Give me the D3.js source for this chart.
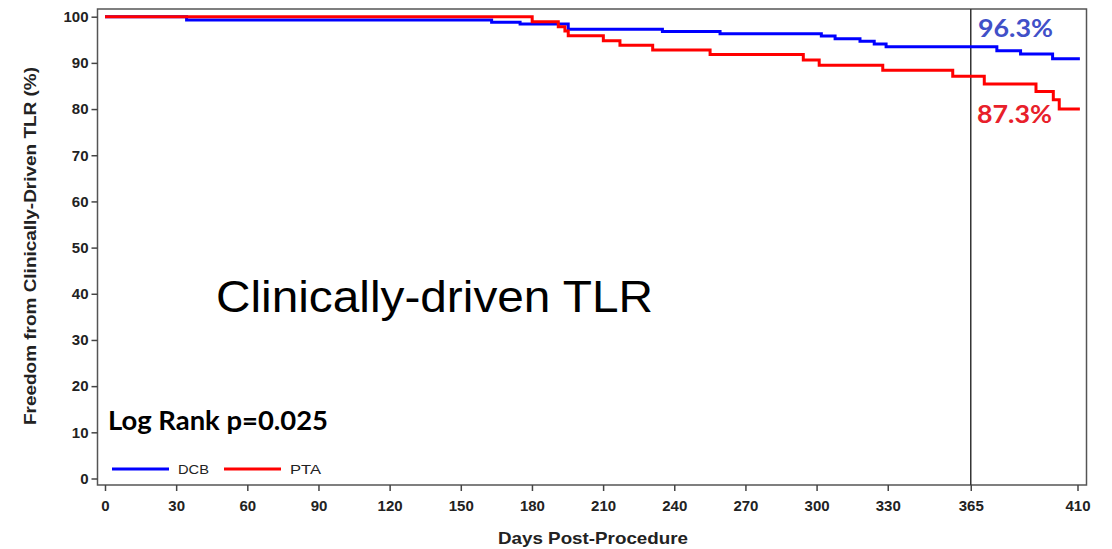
<!DOCTYPE html>
<html>
<head>
<meta charset="utf-8">
<script src="https://cdn.jsdelivr.net/npm/d3@7"></script>
<style>
  html, body { margin: 0; padding: 0; background: #fff; }
  svg { display: block; }
</style>
</head>
<body>
<svg id="chart" width="1112" height="549"></svg>
<script>
// ---- Data ----
const dcbDays = [0, 34.4, 163, 175, 195.3, 235, 259.3, 302, 307.8, 318.3, 324.3, 329.3, 376, 386, 399.5, 411];
const dcbSurv = [100, 99.3, 98.8, 98.4, 97.3, 96.8, 96.3, 95.8, 95.2, 94.7, 94.1, 93.5, 92.6, 91.9, 90.9, 90.9];
const ptaDays = [0, 180.1, 191.1, 193.9, 195.3, 210.1, 217.1, 230.9, 255.1, 294.4, 301.1, 327.9, 357.4, 370.7, 392.5, 399.8, 402.3, 411];
const ptaSurv = [100, 98.9, 97.8, 96.9, 95.9, 94.8, 93.8, 92.8, 91.8, 90.6, 89.5, 88.4, 87.1, 85.4, 83.8, 82.0, 80.0, 80.0];
const xTicks = [0, 30, 60, 90, 120, 150, 180, 210, 240, 270, 300, 330, 365, 410];
const yTicks = [0, 10, 20, 30, 40, 50, 60, 70, 80, 90, 100];
const seriesNames = ["DCB", "PTA"];
const landmarkDay = 365;
const landmarkLabels = ["96.3%", "87.3%"];

// ---- Layout ----
const svg = d3.select("#chart");
const box = { left: 97.5, right: 1086.5, top: 9, bottom: 485 };
const x = d3.scaleLinear().domain([0, 410]).range([105, 1077.5]);
const y = d3.scaleLinear().domain([0, 100]).range([478.5, 16.7]);
const axisFont = "'Liberation Sans', Arial, sans-serif";

// frame
svg.append("rect")
  .attr("x", box.left).attr("y", box.top)
  .attr("width", box.right - box.left).attr("height", box.bottom - box.top)
  .attr("fill", "none").attr("stroke", "#555").attr("stroke-width", 1.5);

// y axis
const yAxis = svg.append("g")
  .attr("transform", `translate(${box.left},0)`)
  .call(d3.axisLeft(y).tickValues(yTicks).tickSize(6).tickPadding(3).tickFormat(d3.format("d")));
yAxis.select(".domain").remove();
yAxis.selectAll(".tick line").attr("stroke", "#444").attr("stroke-width", 1.5);
yAxis.selectAll(".tick text")
  .attr("font-family", axisFont).attr("font-size", 15).attr("font-weight", "bold").attr("fill", "#222");

// x axis
const xAxis = svg.append("g")
  .attr("transform", `translate(0,${box.bottom})`)
  .call(d3.axisBottom(x).tickValues(xTicks).tickSize(6).tickPadding(9).tickFormat(d3.format("d")));
xAxis.select(".domain").remove();
xAxis.selectAll(".tick line").attr("stroke", "#444").attr("stroke-width", 1.5);
xAxis.selectAll(".tick text")
  .attr("font-family", axisFont).attr("font-size", 15).attr("font-weight", "bold").attr("fill", "#222");

// axis titles
svg.append("text")
  .attr("x", 498).attr("y", 544)
  .attr("textLength", 190).attr("lengthAdjust", "spacingAndGlyphs")
  .attr("font-family", axisFont).attr("font-size", 16.5).attr("font-weight", "bold").attr("fill", "#222")
  .text("Days Post-Procedure");
svg.append("text")
  .attr("transform", "translate(36,425) rotate(-90)")
  .attr("textLength", 358).attr("lengthAdjust", "spacingAndGlyphs")
  .attr("font-family", axisFont).attr("font-size", 16).attr("font-weight", "bold").attr("fill", "#222")
  .text("Freedom from Clinically-Driven TLR (%)");

// landmark line
svg.append("line")
  .attr("x1", x(landmarkDay)).attr("x2", x(landmarkDay))
  .attr("y1", box.top).attr("y2", box.bottom)
  .attr("stroke", "#333").attr("stroke-width", 1.5);

// curves
const line = d3.line().curve(d3.curveStepAfter).x(d => x(d[0])).y(d => y(d[1]));
const dcb = dcbDays.map((d, i) => [d, dcbSurv[i]]);
const pta = ptaDays.map((d, i) => [d, ptaSurv[i]]);
svg.append("path").attr("d", line(dcb)).attr("fill", "none").attr("stroke", "#0000ff").attr("stroke-width", 3);
svg.append("path").attr("d", line(pta)).attr("fill", "none").attr("stroke", "#ff0000").attr("stroke-width", 3);

// landmark labels
const labelFont = "Lato, 'Open Sans', sans-serif";
svg.append("text")
  .attr("x", 978).attr("y", 37)
  .attr("textLength", 75).attr("lengthAdjust", "spacingAndGlyphs")
  .attr("font-family", labelFont).attr("font-size", 25.5).attr("font-weight", "bold").attr("fill", "#4150c8")
  .text(landmarkLabels[0]);
svg.append("text")
  .attr("x", 977).attr("y", 123)
  .attr("textLength", 75).attr("lengthAdjust", "spacingAndGlyphs")
  .attr("font-family", labelFont).attr("font-size", 25.5).attr("font-weight", "bold").attr("fill", "#e8202a")
  .text(landmarkLabels[1]);

// annotations
svg.append("text")
  .attr("x", 216).attr("y", 312)
  .attr("textLength", 437).attr("lengthAdjust", "spacingAndGlyphs")
  .attr("font-family", axisFont).attr("font-size", 45).attr("fill", "#000")
  .text("Clinically-driven TLR");
svg.append("text")
  .attr("x", 108).attr("y", 430)
  .attr("textLength", 220).attr("lengthAdjust", "spacingAndGlyphs")
  .attr("font-family", labelFont).attr("font-size", 27.5).attr("font-weight", "bold").attr("fill", "#000")
  .text("Log Rank p=0.025");

// legend
const legend = svg.append("g");
const legendItems = [
  { name: seriesNames[0], color: "#0000ff", x0: 112 },
  { name: seriesNames[1], color: "#ff0000", x0: 224 }
];
legendItems.forEach(it => {
  legend.append("line").attr("x1", it.x0).attr("x2", it.x0 + 57).attr("y1", 469).attr("y2", 469)
    .attr("stroke", it.color).attr("stroke-width", 3);
  legend.append("text").attr("x", it.x0 + 66).attr("y", 474)
    .attr("textLength", 31).attr("lengthAdjust", "spacingAndGlyphs")
    .attr("font-family", axisFont).attr("font-size", 13.5).attr("fill", "#222").text(it.name);
});
</script>
</body>
</html>
